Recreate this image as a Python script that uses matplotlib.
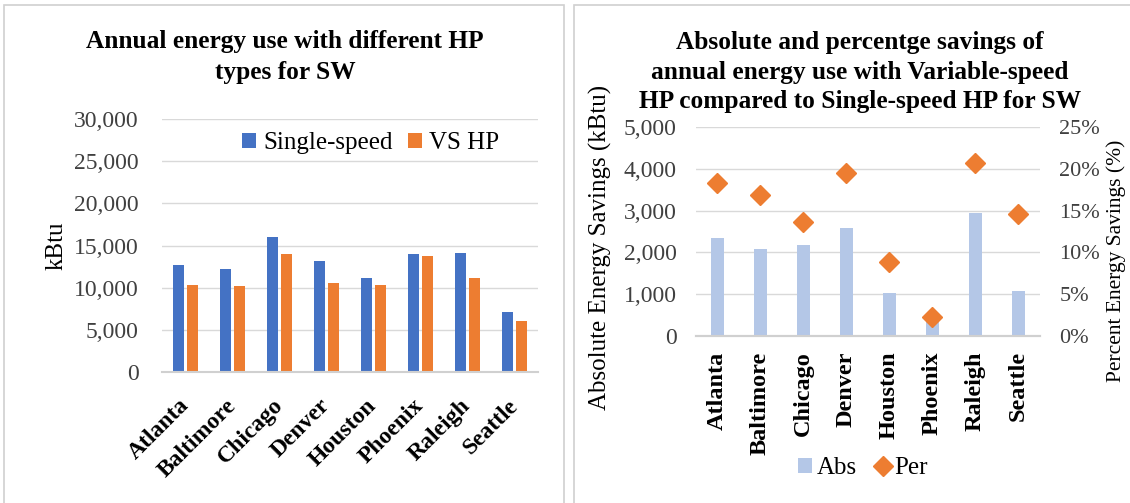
import numpy as np
import matplotlib.pyplot as plt
from matplotlib.patches import Rectangle
from matplotlib.ticker import FuncFormatter

plt.rcParams['font.family'] = ['Liberation Serif', 'DejaVu Serif']

cities = ['Atlanta', 'Baltimore', 'Chicago', 'Denver', 'Houston',
          'Phoenix', 'Raleigh', 'Seattle']
single_speed = [12700, 12250, 16050, 13200, 11200, 14000, 14100, 7150]
vs_hp = [10300, 10200, 14000, 10550, 10300, 13750, 11100, 6100]
abs_savings = [2340, 2070, 2180, 2580, 1020, 335, 2950, 1070]
per_savings = [18.3, 16.9, 13.6, 19.5, 8.9, 2.3, 20.7, 14.6]

blue = '#4472C4'
orange = '#ED7D31'
light_blue = '#B4C7E7'
grid_c = '#D9D9D9'

W, H = 1130, 503
fig = plt.figure(figsize=(W / 100, H / 100), dpi=100)


def box(x0, y0, x1, y1):
    # pixel box (top-left origin) -> figure fraction
    return [x0 / W, 1 - y1 / H, (x1 - x0) / W, (y1 - y0) / H]


# panel borders
for x0, x1 in [(4, 564), (574, 1140)]:
    fig.patches.append(Rectangle((x0 / W, -0.05), (x1 - x0) / W, 1.04,
                                 transform=fig.transFigure, fill=False,
                                 edgecolor='#D0D0D0', lw=1.2))

thousands = FuncFormatter(lambda v, p: f'{int(v):,}')
x = np.arange(len(cities))

# ---- left chart
ax1 = fig.add_axes(box(162, 119, 538, 372))
w = 0.234
ax1.bar(x - 0.15, single_speed, w, color=blue, label='Single-speed')
ax1.bar(x + 0.15, vs_hp, w, color=orange, label='VS HP')
ax1.set_xlim(-0.5, len(cities) - 0.5)
ax1.set_ylim(0, 30000)
ax1.set_yticks(range(0, 30001, 5000))
ax1.yaxis.set_major_formatter(thousands)
ax1.grid(axis='y', color=grid_c, lw=1)
ax1.set_axisbelow(True)
for s in ['top', 'right', 'left']:
    ax1.spines[s].set_visible(False)
ax1.spines['bottom'].set_color('#D0D0D0')
ax1.spines['bottom'].set_linewidth(1.5)
ax1.tick_params(length=0, labelsize=17, colors='#404040')
ax1.tick_params(axis='y', pad=17)
ax1.tick_params(axis='x', pad=22)
ax1.set_xticks(x)
ax1.set_xticklabels(cities, rotation=45, ha='right', va='center',
                    rotation_mode='anchor', fontsize=17, fontweight='bold',
                    color='black')
ax1.set_ylabel('kBtu', fontsize=18)
ax1.yaxis.set_label_coords(-0.25, 0.5)
ax1.legend(loc='center', bbox_to_anchor=(0.555, 0.905), ncol=2,
           frameon=False, fontsize=18, handlelength=0.55, handleheight=0.55,
           columnspacing=0.6, handletextpad=0.3)
fig.text(285 / W, 1 - 57 / H, 'Annual energy use with different HP\ntypes for SW',
         ha='center', va='center', fontsize=18.3, fontweight='bold',
         linespacing=1.4)

# ---- right chart
ax2 = fig.add_axes(box(696, 127, 1040, 336))
ax2.bar(x, abs_savings, 0.3, color=light_blue, label='Abs')
ax2.set_xlim(-0.5, len(cities) - 0.5)
ax2.set_ylim(0, 5000)
ax2.set_yticks(range(0, 5001, 1000))
ax2.yaxis.set_major_formatter(thousands)
ax2.grid(axis='y', color=grid_c, lw=1)
ax2.set_axisbelow(True)
ax3 = ax2.twinx()
ax3.plot(x, per_savings, 'D', color=orange, markersize=10, label='Per')
ax3.set_ylim(0, 25)
ax3.set_yticks(range(0, 26, 5))
ax3.yaxis.set_major_formatter(FuncFormatter(lambda v, p: f'{int(v)}%'))
for a in (ax2, ax3):
    for s in ['top', 'right', 'left']:
        a.spines[s].set_visible(False)
    a.spines['bottom'].set_color('#D0D0D0')
    a.spines['bottom'].set_linewidth(1.5)
    a.tick_params(length=0, labelsize=17, colors='#404040')
ax2.tick_params(axis='y', pad=14)
ax3.tick_params(axis='y', pad=14, labelsize=16)
ax2.tick_params(axis='x', pad=11)
ax2.set_xticks(x)
ax2.set_xticklabels(cities, rotation=90, fontsize=17.5, fontweight='bold',
                    color='black')
ax2.set_ylabel('Absolute Energy Savings (kBtu)', fontsize=18)
ax2.yaxis.set_label_coords(-0.243, 0.426)
ax3.set_ylabel('Percent Energy Savings (%)', fontsize=15.5)
ax3.yaxis.set_label_coords(1.193, 0.36)
h1, l1 = ax2.get_legend_handles_labels()
h2, l2 = ax3.get_legend_handles_labels()
fig.legend(h1 + h2, l1 + l2, loc='center', bbox_to_anchor=(863 / W, 1 - 468 / H),
           ncol=2, frameon=False, fontsize=18, handlelength=0.55,
           handleheight=0.55, columnspacing=0.75, handletextpad=0.2)
fig.text(860 / W, 1 - 72 / H,
         'Absolute and percentge savings of\nannual energy use with Variable-speed\n'
         'HP compared to Single-speed HP for SW',
         ha='center', va='center', fontsize=18.3, fontweight='bold',
         linespacing=1.35)

fig.savefig('out.png', dpi=100)
